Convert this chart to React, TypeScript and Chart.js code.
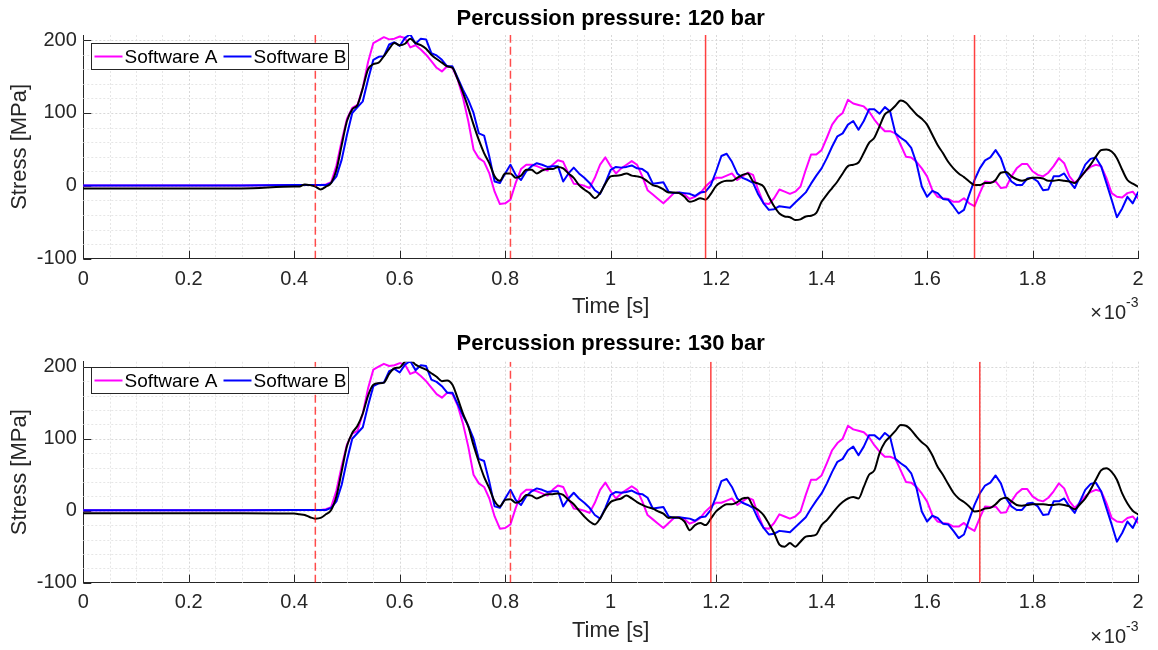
import React, { useEffect, useRef } from 'react';
import { Chart, registerables } from 'chart.js';

Chart.register(...registerables);

const FONT_FAMILY = '"Liberation Sans", Arial, Helvetica, sans-serif';
const AXIS_TEXT = '#262626';

// ---------- data (time in ms, shown on an axis scaled x10^-3 s) ----------
const TIME_MS = [
  0, 0.1, 0.2, 0.3, 0.4,
  0.41, 0.42, 0.43, 0.44, 0.45, 0.46, 0.47, 0.48, 0.49, 0.5,
  0.51, 0.52, 0.53, 0.54, 0.55, 0.56, 0.57, 0.58, 0.59, 0.6,
  0.61, 0.62, 0.63, 0.64, 0.65, 0.66, 0.67, 0.68, 0.69, 0.7,
  0.71, 0.72, 0.73, 0.74, 0.75, 0.76, 0.77, 0.78, 0.79, 0.8,
  0.81, 0.82, 0.83, 0.84, 0.85, 0.86, 0.87, 0.88, 0.89, 0.9,
  0.91, 0.92, 0.93, 0.94, 0.95, 0.96, 0.97, 0.98, 0.99, 1.0,
  1.01, 1.02, 1.03, 1.04, 1.05, 1.06, 1.07, 1.08, 1.09, 1.1,
  1.11, 1.12, 1.13, 1.14, 1.15, 1.16, 1.17, 1.18, 1.19, 1.2,
  1.21, 1.22, 1.23, 1.24, 1.25, 1.26, 1.27, 1.28, 1.29, 1.3,
  1.31, 1.32, 1.33, 1.34, 1.35, 1.36, 1.37, 1.38, 1.39, 1.4,
  1.41, 1.42, 1.43, 1.44, 1.45, 1.46, 1.47, 1.48, 1.49, 1.5,
  1.51, 1.52, 1.53, 1.54, 1.55, 1.56, 1.57, 1.58, 1.59, 1.6,
  1.61, 1.62, 1.63, 1.64, 1.65, 1.66, 1.67, 1.68, 1.69, 1.7,
  1.71, 1.72, 1.73, 1.74, 1.75, 1.76, 1.77, 1.78, 1.79, 1.8,
  1.81, 1.82, 1.83, 1.84, 1.85, 1.86, 1.87, 1.88, 1.89, 1.9,
  1.91, 1.92, 1.93, 1.94, 1.95, 1.96, 1.97, 1.98, 1.99, 2.0,
];

// Software A (magenta)
const SOFTWARE_A = [
  0.5, 0.5, 0.5, 0.5, 1,
  1, 1, 1, 1, 1, 2, 5, 28, 62, 92,
  107, 111, 135, 170, 196, 200, 204, 201, 202, 205,
  203, 190, 193, 187, 180, 171, 162, 157, 164, 162,
  146, 121, 89, 50, 38, 33, 17, -8, -25, -24,
  -19, 4, 23, 29, 29, 27, 24, 21, 29, 35,
  33, 17, 3, 2, 0, -3, 11, 29, 39, 27,
  17, 24, 29, 34, 29, 13, -6, -12, -18, -24,
  -17, -10, -9, -12, -18, -15, -10, -1, 6, 11,
  11, 14, 17, 8, 13, 18, 15, -6, -24, -25,
  -17, -5, -8, -11, -8, -1, 22, 43, 43, 49,
  66, 84, 94, 100, 118, 113, 111, 109, 102, 91,
  82, 75, 75, 72, 56, 40, 39, 33, 24, 13,
  -6, -15, -17, -18, -22, -22, -17, -24, -28, -10,
  6, 5, 6, -3, -2, 13, 24, 30, 30, 20,
  15, 13, 18, 27, 38, 31, 13, 4, 11, 20,
  26, 29, 27, 11, -10, -15, -16, -10, -8, -17,
];

// Software B (blue)
const SOFTWARE_B = [
  0.5, 0.5, 0.5, 0.5, 1,
  1, 1, 1, 1, 1, 1, 4, 13, 36, 70,
  100, 108, 116, 146, 173, 177, 178, 194, 197, 192,
  203, 208, 195, 202, 201, 182, 179, 173, 164, 164,
  148, 132, 118, 100, 72, 69, 40, 6, 4, 17,
  29, 15, 8, 20, 27, 31, 29, 26, 27, 27,
  6, 17, 25, 17, 11, 4, -6, -11, 4, 22,
  26, 25, 26, 28, 24, 23, 18, 3, 4, 5,
  -8, -10, -9, -10, -11, -14, -9, -8, 1, 20,
  41, 44, 33, 17, 11, 8, 4, -12, -24, -33,
  -32, -28, -29, -30, -23, -16, -9, 3, 14, 24,
  38, 54, 68, 72, 84, 89, 77, 89, 105, 105,
  99, 108, 102, 72, 66, 61, 52, 31, -1, -15,
  -7, -10, -18, -19, -28, -38, -33, -12, 8, 24,
  35, 39, 49, 38, 17, 6, 1, 1, 10, 11,
  6, -6, -5, 13, 13, 17, 6, -3, 13, 29,
  37, 39, 27, 4, -19, -43, -31, -15, -24, -9,
];

// third (black) curve, 120 bar
const REFERENCE_120 = [
  -3.5, -3.5, -3.5, -3.5, -1,
  -1, 2, 1, -1, -5, -1, 4, 22, 56, 89,
  105, 111, 134, 160, 167, 169, 178, 188, 196, 193,
  195, 202, 196, 193, 188, 180, 174, 169, 164, 162,
  146, 128, 107, 84, 63, 45, 31, 13, 7, 17,
  17, 11, 14, 22, 22, 17, 21, 23, 23, 26,
  24, 17, 11, 1, -5, -10, -17, -10, 3, 13,
  14, 15, 17, 14, 13, 11, 6, 1, -1, -5,
  -9, -9, -10, -15, -22, -20, -17, -19, -11, 0,
  5, 7, 7, 11, 15, 17, 6, 3, -1, -15,
  -28, -38, -42, -43, -47, -46, -42, -41, -37, -22,
  -12, -3, 6, 17, 27, 29, 32, 45, 59, 66,
  82, 98, 103, 110, 117, 114, 106, 98, 92, 84,
  70, 56, 45, 33, 24, 17, 12, 6, 1, 1,
  4, 4, 8, 18, 19, 13, 9, 7, 9, 11,
  11, 10, 7, 7, 8, 7, 6, 4, 11, 20,
  29, 40, 49, 50, 47, 38, 22, 8, 3, -1,
];

// third (black) curve, 130 bar
const REFERENCE_130 = [
  -3.5, -3.5, -3.5, -3.5, -4,
  -5, -6, -9, -11, -10, -5, 1, 20, 55, 90,
  108, 118, 135, 160, 175, 177, 178, 190, 198, 199,
  207, 209, 203, 199, 196, 191, 186, 180, 181, 175,
  156, 135, 117, 91, 68, 47, 31, 13, 6, 15,
  16, 11, 14, 22, 21, 17, 20, 23, 23, 24,
  22, 15, 9, 0, -8, -15, -19, -11, 2, 12,
  15, 17, 21, 17, 12, 8, 5, 3, -1, -4,
  -10, -9, -10, -15, -27, -20, -17, -20, -11, -1,
  5, 9, 9, 12, 17, 18, 6, 1, -6, -18,
  -31, -47, -50, -45, -50, -43, -36, -35, -33, -20,
  -13, -4, 5, 12, 17, 19, 17, 33, 50, 56,
  80, 95, 103, 111, 119, 118, 112, 103, 95, 89,
  77, 61, 50, 37, 25, 17, 12, 6, -1, 0,
  3, 4, 9, 16, 18, 13, 8, 7, 8, 9,
  9, 9, 8, 8, 9, 8, 6, 2, 9, 17,
  29, 43, 56, 59, 54, 43, 24, 10, 0, -5,
];

const DASHED_MARKERS_120 = [0.44, 0.81];
const SOLID_MARKERS_120 = [1.18, 1.69];
const DASHED_MARKERS_130 = [0.44, 0.81];
const SOLID_MARKERS_130 = [1.19, 1.7];

const LEGEND_LABELS = ['Software A', 'Software B'];
const X_TICKS = [0, 0.2, 0.4, 0.6, 0.8, 1, 1.2, 1.4, 1.6, 1.8, 2];
const Y_TICKS = [-100, 0, 100, 200];
const X_LIMITS = [0, 2];
const Y_LIMITS = [-100, 207];
const X_MINOR_STEP = 0.05;
const Y_MINOR_STEP = 20;

// ---------- panels ----------
const PANELS = [
  {
    title: 'Percussion pressure: 120 bar',
    a: SOFTWARE_A, b: SOFTWARE_B, ref: REFERENCE_120,
    dashed: DASHED_MARKERS_120, solid: SOLID_MARKERS_120,
    layout: { areaTop: 35, areaBottom: 258.7, titleCenter: 18.5, tickCenter: 279.5, xTitleCenter: 307, legendOffset: 8 },
  },
  {
    title: 'Percussion pressure: 130 bar',
    a: SOFTWARE_A, b: SOFTWARE_B, ref: REFERENCE_130,
    dashed: DASHED_MARKERS_130, solid: SOLID_MARKERS_130,
    layout: { areaTop: 36.7, areaBottom: 257.7, titleCenter: 18.5, tickCenter: 277.7, xTitleCenter: 306, legendOffset: 5.5 },
  },
];

const W = 1158;
const H = 325;
const PLOT_LEFT = 83.3;
const PLOT_RIGHT_PAD = 20;

const fmtX = (v: number) => String(Number(v.toFixed(1)));
const isMultiple = (v: number, step: number) => Math.abs(v / step - Math.round(v / step)) < 1e-6;

const decorPlugin: any = {
  id: 'matlabDecor',
  beforeDatasetsDraw(chart: any) {
    const { ctx, chartArea: ca, scales } = chart;
    const x = scales.x;
    const y = scales.y;
    ctx.save();
    ctx.lineWidth = 1;
    ctx.setLineDash([2, 2]);
    for (let k = 1; X_LIMITS[0] + k * X_MINOR_STEP <= X_LIMITS[1] + 1e-9; k++) {
      const v = X_LIMITS[0] + k * X_MINOR_STEP;
      ctx.strokeStyle = isMultiple(v, 0.2) ? '#d8d8d8' : '#e6e6e6';
      const px = Math.round(x.getPixelForValue(v)) + 0.5;
      ctx.beginPath();
      ctx.moveTo(px, ca.top);
      ctx.lineTo(px, ca.bottom);
      ctx.stroke();
    }
    for (let k = 1; Y_LIMITS[0] + k * Y_MINOR_STEP <= 200 + 1e-9; k++) {
      const v = Y_LIMITS[0] + k * Y_MINOR_STEP;
      ctx.strokeStyle = isMultiple(v, 100) ? '#d8d8d8' : '#e6e6e6';
      const py = Math.round(y.getPixelForValue(v)) + 0.5;
      ctx.beginPath();
      ctx.moveTo(ca.left, py);
      ctx.lineTo(ca.right, py);
      ctx.stroke();
    }
    // inward tick marks
    ctx.setLineDash([]);
    ctx.strokeStyle = AXIS_TEXT;
    const tl = 8;
    X_TICKS.forEach((v) => {
      const px = Math.round(x.getPixelForValue(v)) + 0.5;
      ctx.beginPath();
      ctx.moveTo(px, ca.bottom);
      ctx.lineTo(px, ca.bottom - tl);
      ctx.stroke();
    });
    Y_TICKS.forEach((v) => {
      const py = Math.round(y.getPixelForValue(v)) + 0.5;
      ctx.beginPath();
      ctx.moveTo(ca.left, py);
      ctx.lineTo(ca.left + tl, py);
      ctx.stroke();
    });
    ctx.restore();
  },
  afterDraw(chart: any, _args: any, opts: any) {
    const { ctx, chartArea: ca } = chart;
    ctx.save();
    // legend box
    const lx = Math.round(ca.left + 7.5) + 0.5;
    const ly = Math.round(ca.top + opts.legendOffset) + 0.5;
    const lw = 257;
    const lh = 26;
    ctx.fillStyle = '#ffffff';
    ctx.fillRect(lx, ly, lw, lh);
    ctx.strokeStyle = AXIS_TEXT;
    ctx.lineWidth = 1;
    ctx.strokeRect(lx, ly, lw, lh);
    const cy = ly + lh / 2;
    const entryStarts = [3, 132];
    ctx.font = `19px ${FONT_FAMILY}`;
    ctx.textBaseline = 'middle';
    ctx.textAlign = 'left';
    LEGEND_LABELS.forEach((label, i) => {
      const ds = chart.data.datasets.find((d: any) => d.label === label);
      const sx = lx + entryStarts[i];
      ctx.strokeStyle = ds ? ds.borderColor : '#000';
      ctx.lineWidth = 2;
      ctx.beginPath();
      ctx.moveTo(sx, cy);
      ctx.lineTo(sx + 28, cy);
      ctx.stroke();
      ctx.fillStyle = '#000000';
      ctx.fillText(label, sx + 30, cy + 1);
    });
    // x10^-3 exponent label
    ctx.fillStyle = AXIS_TEXT;
    ctx.textBaseline = 'alphabetic';
    ctx.textAlign = 'right';
    const right = ca.right + 0.5;
    ctx.font = `14px ${FONT_FAMILY}`;
    const sup = '-3';
    const supW = ctx.measureText(sup).width;
    ctx.fillText(sup, right, ca.bottom + 48);
    ctx.font = `20px ${FONT_FAMILY}`;
    const ten = '10';
    const tenW = ctx.measureText(ten).width;
    ctx.fillText(ten, right - supW, ca.bottom + 60.5);
    ctx.fillText('\u00d7', right - supW - tenW - 2, ca.bottom + 60.5);
    ctx.restore();
  },
};

function buildConfig(panel: any) {
  const L = panel.layout;
  const pts = (ys: number[]) => TIME_MS.map((t, i) => ({ x: t, y: ys[i] }));
  const vline = (t: number) => [
    { x: t, y: Y_LIMITS[0] },
    { x: t, y: Y_LIMITS[1] },
  ];
  const markerSets = [
    ...panel.dashed.map((t: number) => ({
      label: 'marker', data: vline(t), borderColor: 'rgba(255,0,0,0.7)', borderWidth: 1.5,
      borderDash: [8, 4], pointRadius: 0, order: 0,
    })),
    ...panel.solid.map((t: number) => ({
      label: 'marker', data: vline(t), borderColor: 'rgba(255,0,0,0.75)', borderWidth: 1.5,
      pointRadius: 0, order: 0,
    })),
  ];
  const base = { pointRadius: 0, borderWidth: 2, fill: false, borderJoinStyle: 'round', borderCapStyle: 'round' };
  return {
    type: 'line',
    data: {
      datasets: [
        ...markerSets,
        { ...base, label: 'Reference', data: pts(panel.ref), borderColor: '#000000', order: 1, cubicInterpolationMode: 'monotone' },
        { ...base, label: LEGEND_LABELS[1], data: pts(panel.b), borderColor: '#0000ff', order: 2, tension: 0 },
        { ...base, label: LEGEND_LABELS[0], data: pts(panel.a), borderColor: '#ff00ff', order: 3, tension: 0 },
      ],
    },
    plugins: [decorPlugin],
    options: {
      animation: false,
      responsive: false,
      devicePixelRatio: 1,
      events: [],
      layout: { padding: { left: 0, right: PLOT_RIGHT_PAD, top: 0, bottom: 0 } },
      plugins: {
        legend: { display: false },
        tooltip: { enabled: false },
        title: {
          display: true,
          text: panel.title,
          fullSize: false,
          color: '#000000',
          font: { family: FONT_FAMILY, size: 22, weight: 'bold', lineHeight: 1.2 },
          padding: { top: L.titleCenter - 13.2, bottom: L.areaTop - L.titleCenter - 13.2 },
        },
        matlabDecor: { legendOffset: L.legendOffset },
      },
      scales: {
        x: {
          type: 'linear',
          position: 'bottom',
          min: X_LIMITS[0],
          max: X_LIMITS[1],
          afterBuildTicks: (s: any) => { s.ticks = X_TICKS.map((value) => ({ value })); },
          afterFit: (s: any) => { s.height = H - L.areaBottom; },
          grid: { display: false, drawTicks: false },
          border: { display: true, color: AXIS_TEXT, width: 1 },
          ticks: {
            autoSkip: false, maxRotation: 0, minRotation: 0,
            padding: L.tickCenter - L.areaBottom - 12,
            color: AXIS_TEXT,
            font: { family: FONT_FAMILY, size: 20, lineHeight: 1.2 },
            callback: (v: any) => fmtX(Number(v)),
          },
          title: {
            display: true, text: 'Time [s]', color: AXIS_TEXT,
            font: { family: FONT_FAMILY, size: 22, lineHeight: 1.2 },
            padding: { top: 0, bottom: H - L.xTitleCenter - 13.2 },
          },
        },
        y: {
          type: 'linear',
          position: 'left',
          min: Y_LIMITS[0],
          max: Y_LIMITS[1],
          afterBuildTicks: (s: any) => { s.ticks = Y_TICKS.map((value) => ({ value })); },
          afterFit: (s: any) => { s.width = PLOT_LEFT; },
          grid: { display: false, drawTicks: false },
          border: { display: true, color: AXIS_TEXT, width: 1 },
          ticks: {
            autoSkip: false, padding: 6.5, color: AXIS_TEXT,
            font: { family: FONT_FAMILY, size: 20, lineHeight: 1.2 },
            callback: (v: any) => String(Math.round(Number(v))),
          },
          title: {
            display: true, text: 'Stress [MPa]', color: AXIS_TEXT,
            font: { family: FONT_FAMILY, size: 22, lineHeight: 1.2 },
            padding: { top: 6.3, bottom: 0 },
          },
        },
      },
    },
  };
}

function Panel({ panel }: { panel: any }) {
  const ref = useRef<HTMLCanvasElement | null>(null);
  useEffect(() => {
    if (!ref.current) return;
    const chart = new Chart(ref.current, buildConfig(panel) as any);
    return () => chart.destroy();
  }, [panel]);
  return (
    <canvas
      ref={ref}
      width={W}
      height={H}
      style={{ display: 'block', width: W, height: H }}
    />
  );
}

export default function App() {
  return (
    <div style={{ position: 'fixed', left: 0, top: 0, width: W, height: 2 * H, background: '#ffffff' }}>
      {PANELS.map((p) => (
        <Panel key={p.title} panel={p} />
      ))}
    </div>
  );
}
